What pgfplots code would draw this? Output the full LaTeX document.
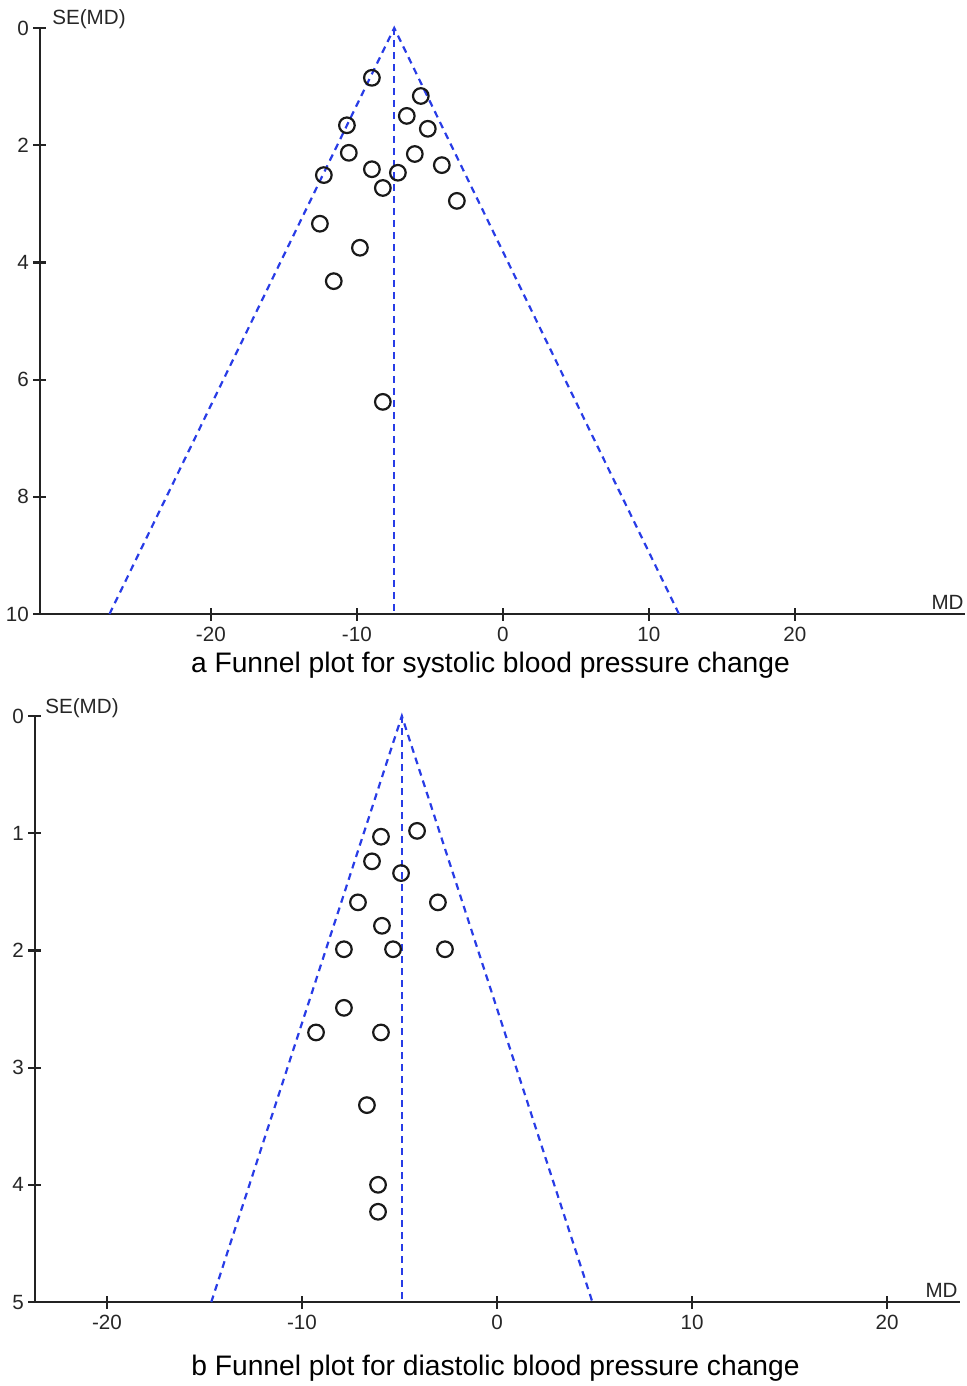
\documentclass[border=0pt]{standalone}
\usepackage{pgfplots}
\pgfplotsset{compat=1.18}
\usepackage{fontspec}
\setmainfont{Liberation Sans}
\definecolor{funblue}{RGB}{40,60,230}
\definecolor{axgray}{RGB}{35,35,35}
\pgfplotsset{
  funnel/.style={
    scale only axis, width=462.5pt, height=293pt,
    y dir=reverse, anchor=center,
    axis x line=bottom, axis y line=left,
    axis line style={-, line width=1.1pt, axgray},
    tick style={line width=1.1pt, axgray},
    tick align=center, major tick length=6.5pt,
    /pgf/number format/assume math mode=true,
    tick label style={font=\fontsize{10.3}{12}\selectfont, text=black!85},
    yticklabel style={xshift=1.2pt},
    clip=false,
  },
  fline/.style={funblue, line width=1.1pt, dash pattern=on 3.4pt off 2.6pt},
  pts/.style={only marks, mark=o, mark size=3.9pt, mark options={line width=1.1pt, black!90}},
}
\begin{document}
\begin{tikzpicture}
\useasboundingbox (0,0) rectangle (483pt,-693pt);
% ---------------- (a) systolic ----------------
\begin{axis}[funnel, at={(251.25pt,-160.5pt)},
  xmin=-31.7, xmax=31.65, ymin=0, ymax=10,
  xtick={-20,-10,0,10,20}, ytick={0,2,4,6,8,10}]
\addplot[fline] coordinates {(-26.94,10) (-7.44,0) (12.06,10)};
\addplot[fline] coordinates {(-7.44,0) (-7.44,10)};
\addplot[pts] coordinates {
(-8.97,0.85) (-5.62,1.16) (-6.58,1.50) (-5.14,1.72) (-10.68,1.66)
(-10.55,2.13) (-6.03,2.15) (-4.18,2.34) (-8.97,2.41) (-7.19,2.47)
(-12.26,2.51) (-8.22,2.73) (-3.15,2.95) (-12.53,3.34) (-9.79,3.75)
(-11.58,4.32) (-8.22,6.38)};
\end{axis}
% ---------------- (b) diastolic ----------------
\begin{axis}[funnel, at={(248.75pt,-504.5pt)},
  xmin=-23.69, xmax=23.74, ymin=0, ymax=5,
  xtick={-20,-10,0,10,20}, ytick={0,1,2,3,4,5}]
\addplot[fline] coordinates {(-14.65,5) (-4.88,0) (4.89,5)};
\addplot[fline] coordinates {(-4.88,0) (-4.88,5)};
\addplot[pts] coordinates {
(-4.10,0.98) (-5.95,1.03) (-6.41,1.24) (-4.92,1.34) (-7.13,1.59)
(-3.03,1.59) (-5.90,1.79) (-7.85,1.99) (-5.33,1.99) (-2.67,1.99)
(-7.85,2.49) (-9.28,2.70) (-5.95,2.70) (-6.67,3.32) (-6.10,4.00)
(-6.10,4.23)};
\end{axis}
% labels
\begingroup\fontsize{10.3}{12}\selectfont\color{black!85}
\node[anchor=base west, inner sep=0pt] at (26pt,-12.5pt) {SE(MD)};
\node[anchor=base east, inner sep=0pt] at (482pt,-304.5pt) {MD};
\node[anchor=base west, inner sep=0pt] at (22.5pt,-356.5pt) {SE(MD)};
\node[anchor=base east, inner sep=0pt] at (479pt,-648.5pt) {MD};
\endgroup
\node[anchor=base, inner sep=0pt, font=\fontsize{14.1}{17}\selectfont] at (245.25pt,-336pt) {a Funnel plot for systolic blood pressure change};
\node[anchor=base, inner sep=0pt, font=\fontsize{14.1}{17}\selectfont] at (247.75pt,-687.5pt) {b Funnel plot for diastolic blood pressure change};
\end{tikzpicture}
\end{document}
